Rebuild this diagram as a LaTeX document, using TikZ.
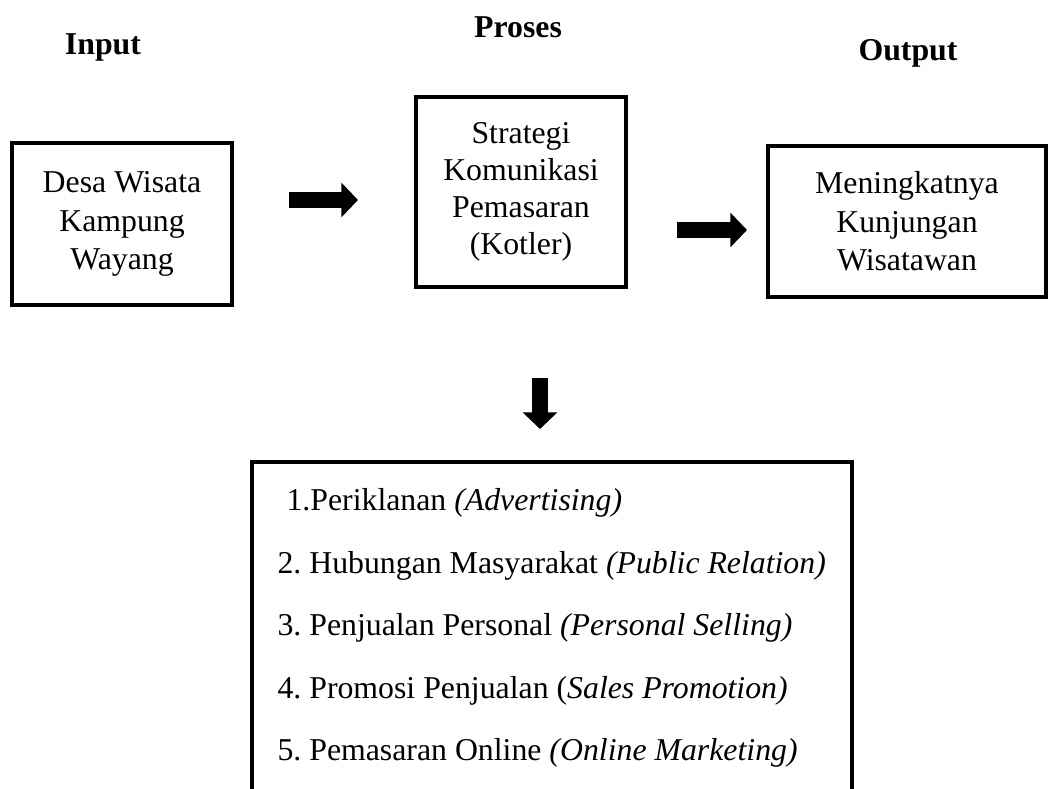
\documentclass[tikz,border=0pt]{standalone}
\usepackage{fontspec}
\setmainfont{Liberation Serif}
\usetikzlibrary{arrows.meta}
\frenchspacing

\begin{document}
\begin{tikzpicture}[x=0.3774pt, y=-0.3774pt,
  kotak/.style={draw, line width=1.6pt, align=center, font=\fontsize{12}{14.5}\selectfont},
  panah/.style={line width=6pt, -{Triangle[length=6.3pt, width=12.8pt]}},
  judul/.style={anchor=base, font=\fontsize{12}{14}\selectfont\bfseries},
  butir/.style={anchor=base west, inner sep=0pt, font=\fontsize{12}{14}\selectfont}]
\useasboundingbox (0,0) rectangle (1057,789);
% judul kolom
\node[judul] (input) at (103,55) {Input};
\node[judul] (proses) at (518,38) {Proses};
\node[judul] (output) at (908,61) {Output};
% kotak utama
\node[kotak, minimum width=83pt, minimum height=61.1pt] (desa) at (122,224) {Desa Wisata\\Kampung\\Wayang};
\node[kotak, minimum width=79.3pt, minimum height=71.7pt, font=\fontsize{12}{14}\selectfont] (strategi) at (521,192) {Strategi\\Komunikasi\\Pemasaran\\(Kotler)};
\node[kotak, minimum width=104.9pt, minimum height=57pt] (kunjungan) at (907,221.5) {Meningkatnya\\Kunjungan\\Wisatawan};
% panah
\coordinate (p1a) at (289,200);
\coordinate (p1b) at (358,200);
\coordinate (p2a) at (677,230);
\coordinate (p2b) at (747,230);
\coordinate (p3a) at (540,378);
\coordinate (p3b) at (540,429);
\draw[panah] (p1a) -- (p1b);
\draw[panah] (p2a) -- (p2b);
\draw[panah] (p3a) -- (p3b);
% kotak bauran komunikasi
\draw[line width=1.6pt] (252,792) -- (252,462) -- (852,462) -- (852,792);
\node[butir] (l1) at (286,511) {1.Periklanan \textit{(Advertising)}};
\node[butir] (l2) at (277,574) {2. Hubungan Masyarakat \textit{(Public Relation)}};
\node[butir] (l3) at (277,636) {3. Penjualan Personal \textit{(Personal Selling)}};
\node[butir] (l4) at (277,699) {4. Promosi Penjualan (\textit{Sales Promotion)}};
\node[butir] (l5) at (277,761) {5. Pemasaran Online \textit{(Online Marketing)}};
\end{tikzpicture}
\end{document}
